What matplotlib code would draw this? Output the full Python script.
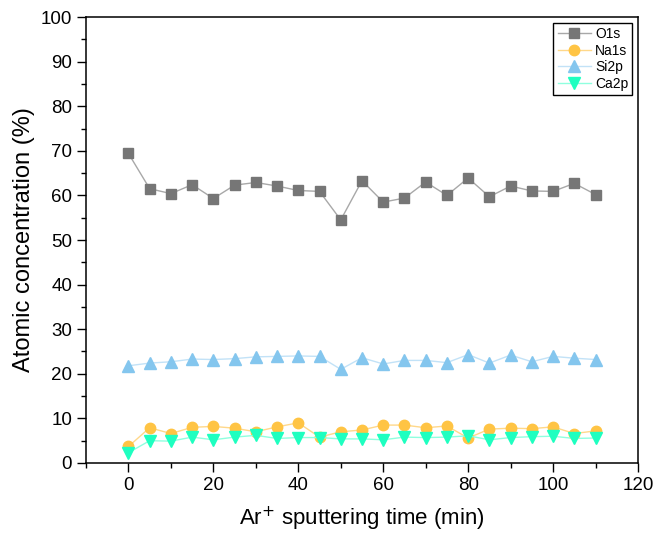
import matplotlib
matplotlib.use("Agg")
import matplotlib.pyplot as plt
from matplotlib.ticker import MultipleLocator

plt.rcParams['font.family'] = ['Liberation Sans', 'DejaVu Sans']

time_min = [0, 5, 10, 15, 20, 25, 30, 35, 40, 45, 50, 55, 60, 65, 70, 75, 80, 85, 90, 95, 100, 105, 110]
o1s = [69.4, 61.5, 60.4, 62.4, 59.3, 62.3, 62.9, 62.1, 61.1, 60.9, 54.5, 63.3,
       58.5, 59.4, 63.0, 60.0, 63.9, 59.7, 62.1, 61.0, 60.9, 62.7, 60.2]
na1s = [3.7, 7.9, 6.6, 8.0, 8.2, 7.8, 7.0, 8.1, 9.0, 5.8, 7.0, 7.4,
        8.5, 8.5, 7.9, 8.3, 5.6, 7.6, 7.8, 7.7, 8.1, 6.6, 7.2]
si2p = [21.8, 22.4, 22.7, 23.3, 23.2, 23.4, 23.8, 23.9, 24.0, 23.9, 21.0, 23.6,
        22.2, 23.0, 23.0, 22.5, 24.3, 22.4, 24.2, 22.7, 23.9, 23.5, 23.2]
ca2p = [2.3, 5.0, 4.9, 5.8, 5.2, 5.8, 6.2, 5.5, 5.7, 5.7, 5.4, 5.4,
        5.2, 5.8, 5.7, 5.8, 6.1, 5.2, 5.7, 5.9, 6.0, 5.5, 5.6]

fig = plt.figure(figsize=(6.54, 5.35), dpi=100)
ax = fig.add_axes([0.1315, 0.1346, 0.844, 0.8336])

ax.plot(time_min, o1s, color='#A8A8A8', lw=1.0, marker='s', ms=6.5,
        mfc='#767676', mec='#767676', label='O1s')
ax.plot(time_min, na1s, color='#FFD88A', lw=1.0, marker='o', ms=7.5,
        mfc='#FFC444', mec='#FFC444', label='Na1s')
ax.plot(time_min, si2p, color='#C2E2F7', lw=1.0, marker='^', ms=8,
        mfc='#84C6EE', mec='#84C6EE', label='Si2p')
ax.plot(time_min, ca2p, color='#8FFFDF', lw=1.0, marker='v', ms=8,
        mfc='#1EFFC0', mec='#1EFFC0', label='Ca2p')

ax.set_xlim(-10, 120)
ax.set_ylim(0, 100)
ax.xaxis.set_major_locator(MultipleLocator(20))
ax.xaxis.set_minor_locator(MultipleLocator(10))
ax.yaxis.set_major_locator(MultipleLocator(10))
ax.yaxis.set_minor_locator(MultipleLocator(5))
ax.tick_params(which='major', direction='out', length=6.5, width=1, labelsize=13.5, colors='black')
ax.tick_params(which='minor', direction='out', length=3.5, width=1)
for s in ax.spines.values():
    s.set_linewidth(1.1)
    s.set_color('black')

ax.set_xlabel('Ar$^{+}$ sputtering time (min)', fontsize=16, labelpad=8)
ax.set_ylabel('Atomic concentration (%)', fontsize=17, labelpad=4)

leg = ax.legend(loc='upper right', fontsize=10, frameon=True, fancybox=False,
                edgecolor='black', framealpha=1, borderpad=0.3, labelspacing=0.2,
                handlelength=2.4, handletextpad=0.3, borderaxespad=0.4)
leg.get_frame().set_linewidth(1.0)

fig.savefig('out.png', dpi=100)
